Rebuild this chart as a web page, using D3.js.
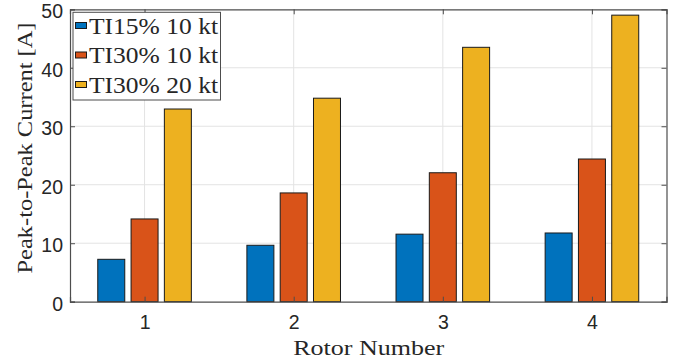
<!DOCTYPE html>
<html>
<head>
<meta charset="utf-8">
<script src="https://cdn.jsdelivr.net/npm/d3@7"></script>
<style>
  body { margin: 0; background: #fff; }
  svg { display: block; }
  .tick text { font-family: "Liberation Sans", Arial, sans-serif; font-size: 19.5px; fill: #262626; }
  .serif { font-family: "Liberation Serif", "Times New Roman", serif; fill: #262626; }
</style>
</head>
<body>
<svg id="chart" width="683" height="362"></svg>
<script>
// data
const rotors = [1, 2, 3, 4];
const seriesNames = ['TI15% 10 kt', 'TI30% 10 kt', 'TI30% 20 kt'];
const ti15_10kt = [7.25, 9.65, 11.55, 11.75];
const ti30_10kt = [14.15, 18.6, 22.05, 24.4];
const ti30_20kt = [32.95, 34.8, 43.5, 49.0];
const yTicks = [0, 10, 20, 30, 40, 50];
const colors = ['#0072BD', '#D95319', '#EDB120'];

const series = [ti15_10kt, ti30_10kt, ti30_20kt];

const plotL = 70, plotR = 666.5, plotT = 9.3, plotB = 301.7;
const svg = d3.select('#chart');

let x = d3.scaleLinear().domain([0.5, 4.5]).range([plotL, plotR]);
let y = d3.scaleLinear().domain([0, 50]).range([plotB, plotT]);

// grid
let grid = svg.append('g');
grid.selectAll('.hgrid').data(yTicks.slice(1, -1)).enter().append('line')
  .attr('x1', plotL).attr('x2', plotR)
  .attr('y1', d => y(d)).attr('y2', d => y(d))
  .attr('stroke', '#e3e3e3').attr('stroke-width', 1);
grid.selectAll('.vgrid').data(rotors).enter().append('line')
  .attr('y1', plotT).attr('y2', plotB)
  .attr('x1', d => x(d)).attr('x2', d => x(d))
  .attr('stroke', '#e3e3e3').attr('stroke-width', 1);

// bars, MATLAB style grouped layout
const offset = 0.2233, barW = 0.181;
series.forEach((vals, j) => {
  svg.append('g').selectAll('rect').data(vals).enter().append('rect')
    .attr('x', (d, i) => x(rotors[i] + (j - 1) * offset - barW / 2))
    .attr('width', x(barW) - x(0))
    .attr('y', d => y(d))
    .attr('height', d => y(0) - y(d))
    .attr('fill', colors[j])
    .attr('stroke', '#1a1a1a').attr('stroke-width', 1);
});

// axes (ticks inward, box on)
const axisColor = '#4d4d4d';
let xAxis = svg.append('g').attr('transform', `translate(0,${plotB})`)
  .call(d3.axisBottom(x).tickValues(rotors).tickSize(-5).tickPadding(13).tickFormat(d3.format('d')));
let xTop = svg.append('g').attr('transform', `translate(0,${plotT})`)
  .call(d3.axisTop(x).tickValues(rotors).tickSize(-5).tickFormat(''));
let yAxis = svg.append('g').attr('transform', `translate(${plotL},0)`)
  .call(d3.axisLeft(y).tickValues(yTicks).tickSize(-5).tickPadding(7));
let yRight = svg.append('g').attr('transform', `translate(${plotR},0)`)
  .call(d3.axisRight(y).tickValues(yTicks).tickSize(-5).tickFormat(''));
[xAxis, xTop, yAxis, yRight].forEach(a => {
  a.select('.domain').attr('stroke', axisColor).attr('stroke-width', 1.2);
  a.selectAll('.tick line').attr('stroke', axisColor);
});
yAxis.selectAll('.tick text').attr('dy', '0.44em');

// axis labels
svg.append('text').attr('class', 'serif')
  .attr('x', (plotL + plotR) / 2 + 0.5).attr('y', 355)
  .attr('text-anchor', 'middle').attr('font-size', 22)
  .attr('textLength', 151).attr('lengthAdjust', 'spacingAndGlyphs')
  .text('Rotor Number');
svg.append('text').attr('class', 'serif')
  .attr('transform', `translate(32,148)rotate(-90)`)
  .attr('text-anchor', 'middle').attr('font-size', 22)
  .attr('textLength', 251).attr('lengthAdjust', 'spacingAndGlyphs')
  .text('Peak-to-Peak Current [A]');

// legend
let legend = svg.append('g');
legend.append('rect')
  .attr('x', 73).attr('y', 12.3).attr('width', 147.5).attr('height', 87.7)
  .attr('fill', '#fff').attr('stroke', axisColor).attr('stroke-width', 1);
seriesNames.forEach((name, j) => {
  let base = 33.5 + j * 29.5;
  legend.append('rect')
    .attr('x', 75.5).attr('y', base - 11).attr('width', 11).attr('height', 6)
    .attr('fill', colors[j]).attr('stroke', '#1a1a1a').attr('stroke-width', 1);
  legend.append('text').attr('class', 'serif')
    .attr('x', 89).attr('y', base).attr('font-size', 23)
    .attr('textLength', 129).attr('lengthAdjust', 'spacingAndGlyphs')
    .text(name);
});
</script>
</body>
</html>
